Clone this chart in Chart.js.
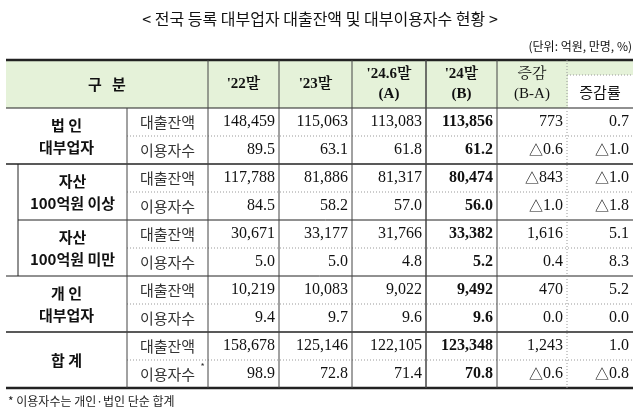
<!DOCTYPE html>
<html><head><meta charset="utf-8">
<script src="https://cdn.jsdelivr.net/npm/chart.js@4/dist/chart.umd.min.js"></script>
<style>html,body{margin:0;padding:0;background:#fff}</style>
</head><body>
<canvas id="c" width="640" height="416"></canvas>
<script>
const title = '< 전국 등록 대부업자 대출잔액 및 대부이용자수 현황 >';
const unit = '(단위: 억원, 만명, %)';
const groups = [['법 인','대부업자'],['자산','100억원 이상'],['자산','100억원 미만'],['개 인','대부업자'],['합 계']];
const rowLabels = ['대출잔액','이용자수'];
const columns = [["'22말"],["'23말"],["'24.6말","(A)"],["'24말","(B)"],["증감","(B-A)"],["증감률"]];
const loans = [
 ['148,459','115,063','113,083','113,856','773','0.7'],
 ['117,788','81,886','81,317','80,474','△843','△1.0'],
 ['30,671','33,177','31,766','33,382','1,616','5.1'],
 ['10,219','10,083','9,022','9,492','470','5.2'],
 ['158,678','125,146','122,105','123,348','1,243','1.0']];
const users = [
 ['89.5','63.1','61.8','61.2','△0.6','△1.0'],
 ['84.5','58.2','57.0','56.0','△1.0','△1.8'],
 ['5.0','5.0','4.8','5.2','0.4','8.3'],
 ['9.4','9.7','9.6','9.6','0.0','0.0'],
 ['98.9','72.8','71.4','70.8','△0.6','△0.8']];
const footnote = '* 이용자수는 개인·법인 단순 합계';

const KR = '"Noto Sans CJK KR"', SER = '"Liberation Serif", "Noto Serif CJK KR", serif';
const L=6, R=633, colX=[127,208,279,352,426,497,567,633], topY=60, hdrB=108, gh=56;
const tablePlugin = {id:'table', afterDraw(chart){
  const c=chart.ctx; c.save();
  c.fillStyle='#fff'; c.fillRect(0,0,640,416);
  c.fillStyle='#111'; c.textBaseline='middle';
  c.font='16px '+KR; c.textAlign='center'; c.fillText(title,320,19);
  c.font='12px '+KR; c.textAlign='right'; c.fillText(unit,632,46);
  c.fillStyle='#e5f2d9'; c.fillRect(L,topY,R-L,hdrB-topY);
  c.fillStyle='#fff'; c.fillRect(colX[6]+1,75,R-colX[6]-1,hdrB-75);
  const line=(x1,y1,x2,y2,w,col,dash)=>{c.beginPath();c.lineWidth=w;c.strokeStyle=col||'#222';c.setLineDash(dash||[]);c.moveTo(x1,y1);c.lineTo(x2,y2);c.stroke();c.setLineDash([]);};
  c.fillStyle='#111'; c.textAlign='center';
  c.font='bold 15px '+KR; c.fillText('구   분',(L+colX[1])/2,84);
  columns.forEach((h,i)=>{
    const cx=(colX[i+1]+colX[i+2])/2;
    if(h.length===1){ c.font=(i===5?'15px ':'bold 15px ')+(i===5?KR:SER); c.fillText(h[0],cx,i===5?92:84);}
    else { c.font=(i===4?'15px ':'bold 15px ')+SER; c.fillText(h[0],cx,74); c.fillText(h[1],cx,94);}
  });
  groups.forEach((g,gi)=>{
    const y0=hdrB+gi*gh;
    c.fillStyle='#111';
    c.font='bold 15px '+KR; c.textAlign='center';
    const lx=(L+colX[0])/2+(gi===1||gi===2?6:0);
    if(g.length===2){c.fillText(g[0],lx,y0+17);c.fillText(g[1],lx,y0+39);} else c.fillText(g[0],lx,y0+28);
    rowLabels.forEach((rl,ri)=>{
      const cy=y0+14+ri*28;
      c.font='15px '+KR; c.textAlign='center'; c.fillStyle='#333';
      c.fillText(rl,(colX[0]+colX[1])/2,cy);
      if(gi===4&&ri===1){c.font='9px '+KR;c.fillText('*',(colX[0]+colX[1])/2+35,cy-7);}
      const vals=ri===0?loans[gi]:users[gi];
      vals.forEach((v,ci)=>{
        c.fillStyle='#111'; c.textAlign='right';
        c.font=(ci===3?'bold ':'')+'16px '+SER;
        if(v.startsWith('△')){ const t=v.slice(1); const w=c.measureText(t).width; c.fillText(t,colX[ci+2]-4,cy); c.font='14px '+KR; c.fillText('△',colX[ci+2]-4-w,cy);}
        else c.fillText(v,colX[ci+2]-4,cy);
      });
    });
    if(gi>0){ const x1=(gi===2?18:L); line(x1,y0,R,y0,gi===1||gi===4?1.5:1,'#222'); }
    line(colX[0],y0+28,R,y0+28,1,'#999',[1,2]);
  });
  line(18,hdrB+gh,18,hdrB+3*gh,1);
  line(L,topY,R,topY,2.5); line(L,hdrB,R,hdrB,1.2); line(L,hdrB+5*gh,R,hdrB+5*gh,2.5);
  colX.slice(0,6).forEach((x,i)=>{ line(x,i===0?hdrB:topY,x,hdrB+5*gh,i===4?1.5:1,'#444');});
  line(colX[6],topY,colX[6],hdrB+5*gh,1,'#999',[1,2]);
  line(colX[6],75,R,75,1,'#999',[1,2]);
  c.fillStyle='#222'; c.textAlign='left'; c.font='12px '+KR; c.fillText(footnote,8,401);
  c.restore();
}};
new Chart(document.getElementById('c'),{type:'bar',data:{labels:[],datasets:[]},
 options:{responsive:false,animation:false,plugins:{legend:{display:false},tooltip:{enabled:false}},scales:{x:{display:false},y:{display:false}}},
 plugins:[tablePlugin]});
</script></body></html>
